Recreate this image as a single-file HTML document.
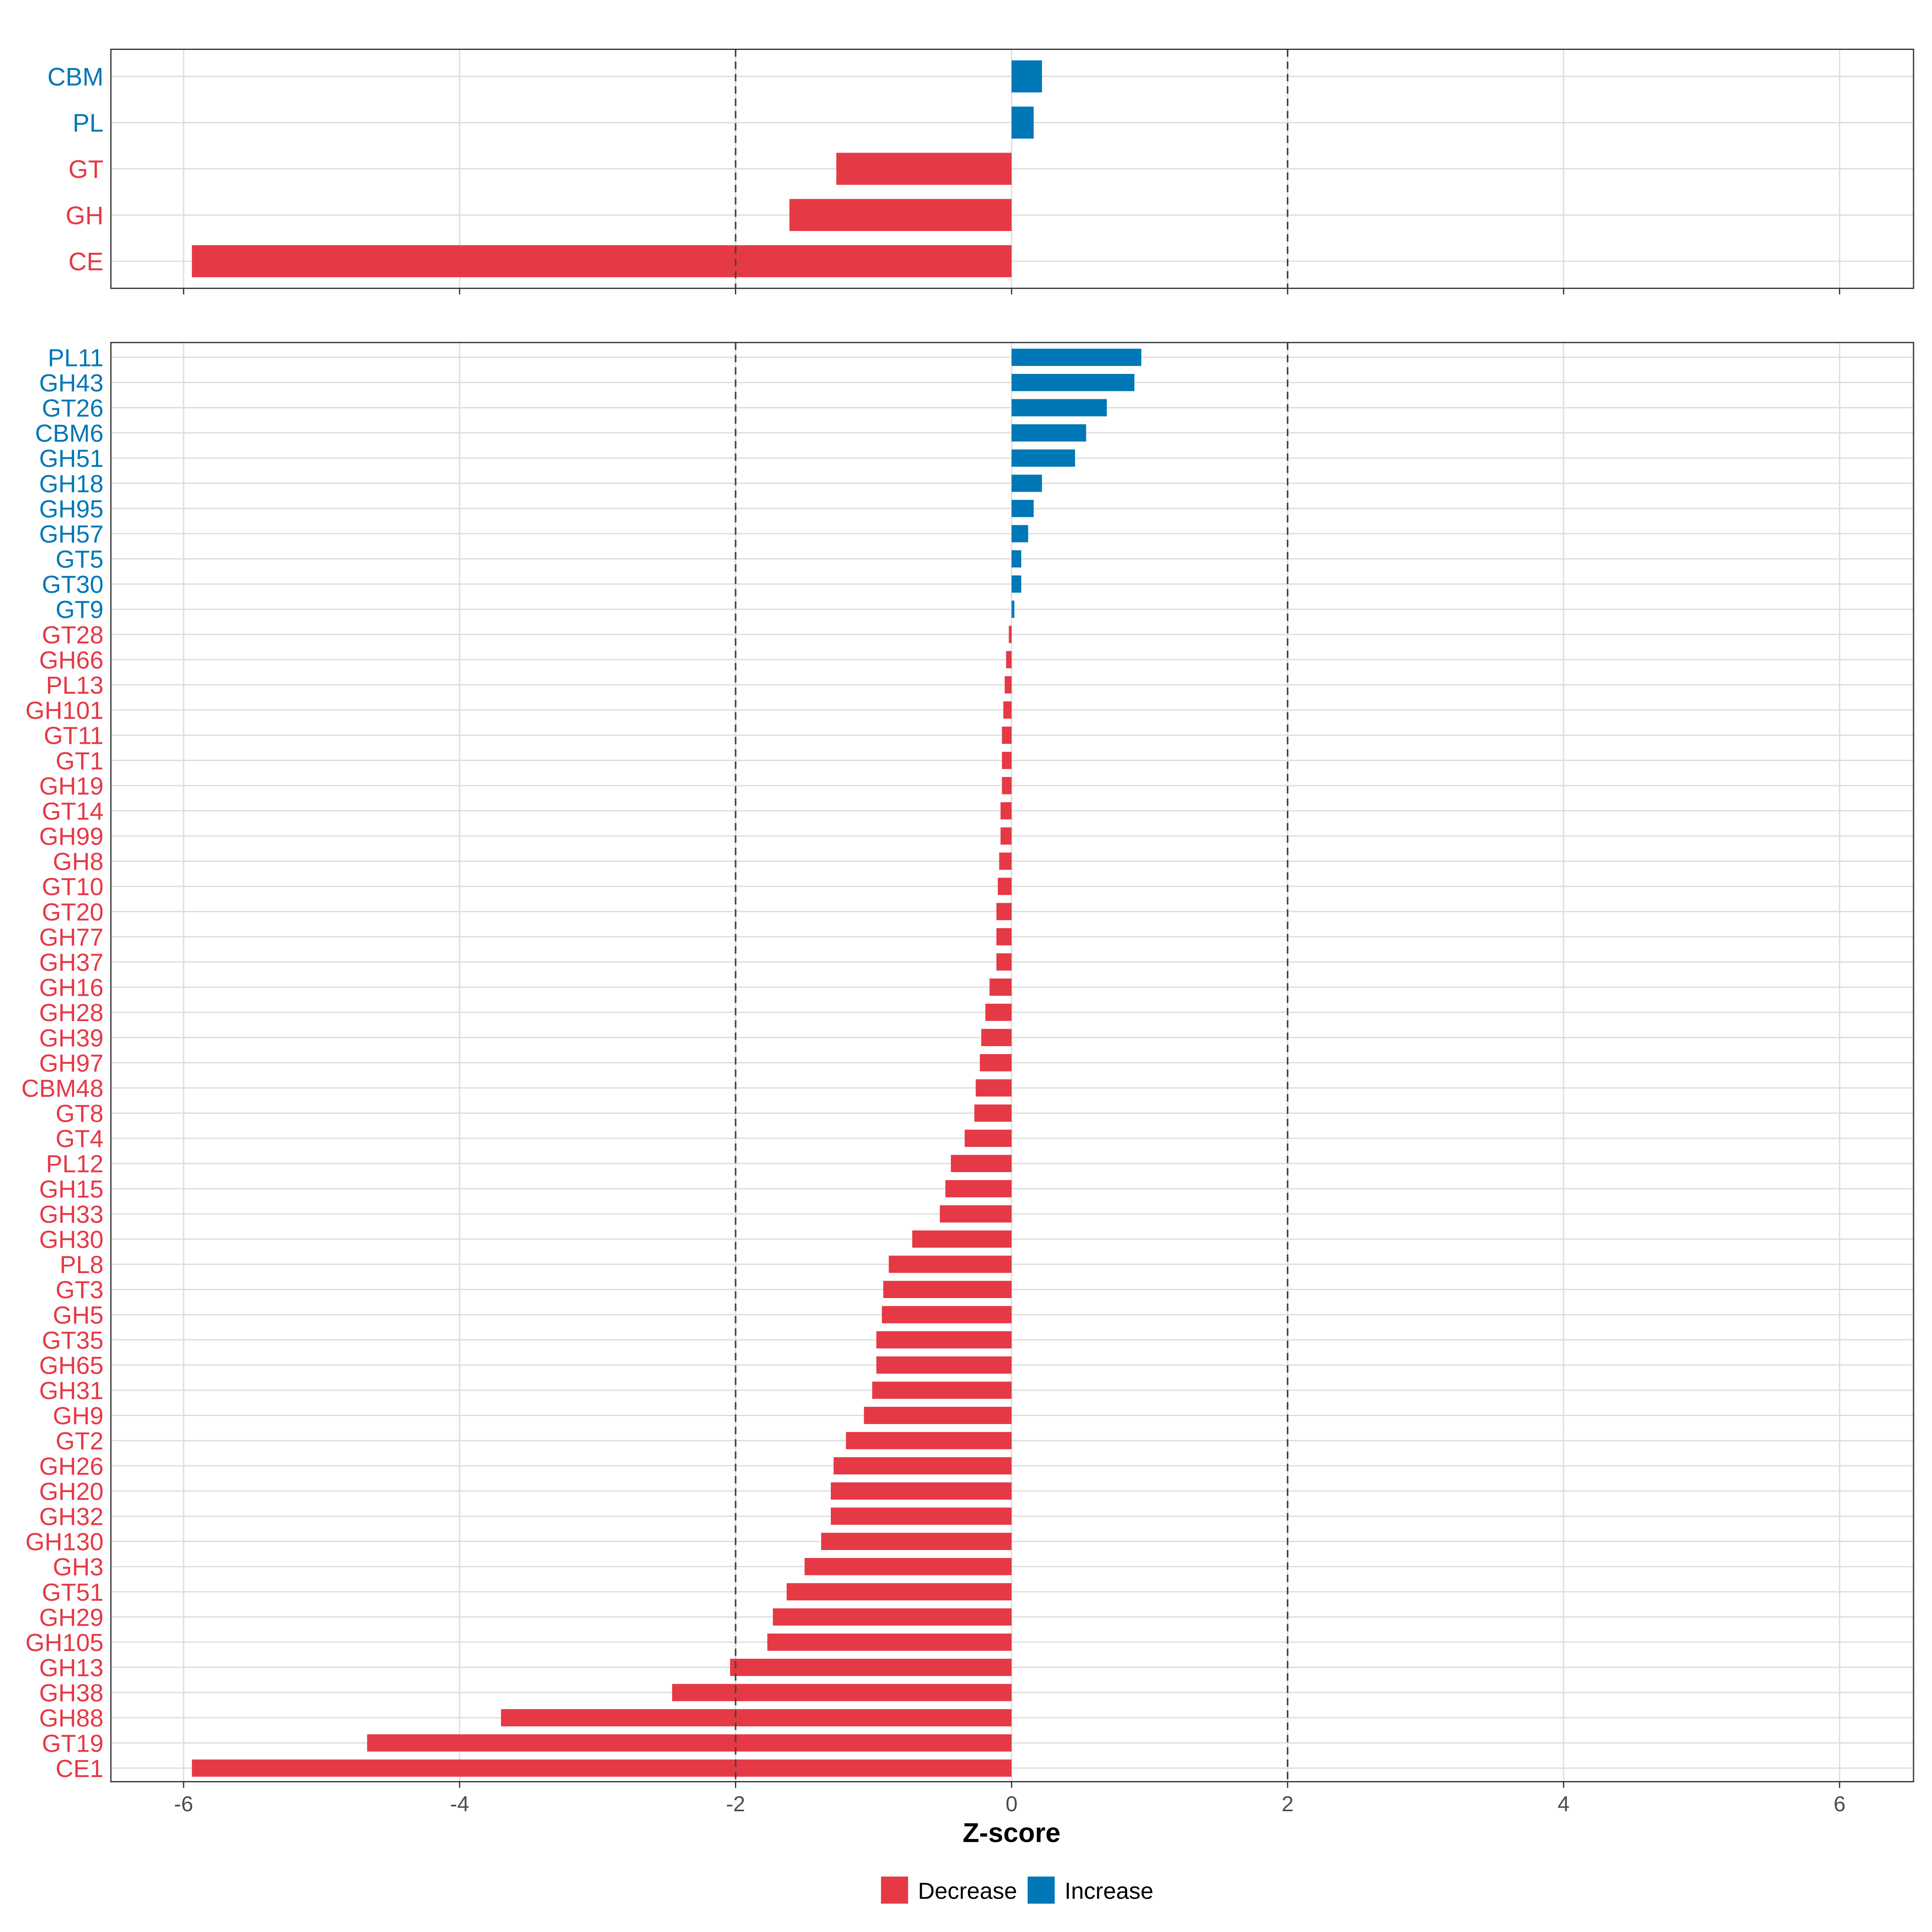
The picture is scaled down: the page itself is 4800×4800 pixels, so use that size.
<!DOCTYPE html>
<html><head><meta charset="utf-8"><style>
html,body{margin:0;padding:0;background:#fff;}
svg{display:block;font-family:"Liberation Sans",sans-serif;}
</style></head><body>
<svg id="chart" width="4800" height="4800" viewBox="0 0 1568 1568" xmlns="http://www.w3.org/2000/svg"></svg>
<script>
const topCategories=["CBM","PL","GT","GH","CE"];
const topValues=[0.22,0.16,-1.27,-1.61,-5.94];
const bottomCategories=["PL11","GH43","GT26","CBM6","GH51","GH18","GH95","GH57","GT5","GT30","GT9","GT28","GH66","PL13","GH101","GT11","GT1","GH19","GT14","GH99","GH8","GT10","GT20","GH77","GH37","GH16","GH28","GH39","GH97","CBM48","GT8","GT4","PL12","GH15","GH33","GH30","PL8","GT3","GH5","GT35","GH65","GH31","GH9","GT2","GH26","GH20","GH32","GH130","GH3","GT51","GH29","GH105","GH13","GH38","GH88","GT19","CE1"];
const bottomValues=[0.94,0.89,0.69,0.54,0.46,0.22,0.16,0.12,0.07,0.07,0.02,-0.02,-0.04,-0.05,-0.06,-0.07,-0.07,-0.07,-0.08,-0.08,-0.09,-0.1,-0.11,-0.11,-0.11,-0.16,-0.19,-0.22,-0.23,-0.26,-0.27,-0.34,-0.44,-0.48,-0.52,-0.72,-0.89,-0.93,-0.94,-0.98,-0.98,-1.01,-1.07,-1.2,-1.29,-1.31,-1.31,-1.38,-1.5,-1.63,-1.73,-1.77,-2.04,-2.46,-3.7,-4.67,-5.94];
const xTicks=[-6,-4,-2,0,2,4,6];
const thresholds=[-2,2];

const RED="#E63946",BLUE="#0077B6";
const svg=document.getElementById('chart');
const NS="http://www.w3.org/2000/svg";
const xs=v=>821+v*112;
function mk(tag,attrs,parent){const e=document.createElementNS(NS,tag);for(const k in attrs)e.setAttribute(k,attrs[k]);(parent||svg).appendChild(e);return e;}

function panel(name,y0,y1,cats,vals,firstY,step,barH,fs){
  const g=mk('g',{});
  
  
  xTicks.forEach(t=>{const l=mk('line',{x1:xs(t),x2:xs(t),y1:y0,y2:y1,stroke:'#dcdcdc','stroke-width':1},g);
    });
  cats.forEach((c,i)=>{const y=firstY+i*step;
    const l=mk('line',{x1:90,x2:1553,y1:y,y2:y,stroke:'#dcdcdc','stroke-width':1},g);
    });
  cats.forEach((c,i)=>{const y=firstY+i*step;const v=vals[i];
    const x0=Math.min(xs(0),xs(v)),w=Math.abs(xs(v)-xs(0));
    const r=mk('rect',{x:x0,y:y-barH/2,width:w,height:barH,fill:v<0?RED:BLUE},g);
    
    const t=mk('text',{x:84,y:y+fs*0.36,'text-anchor':'end','font-size':fs,fill:v<0?RED:BLUE},g);
    t.textContent=c;
    });
  thresholds.forEach(t=>{const l=mk('line',{x1:xs(t),x2:xs(t),y1:y0,y2:y1,stroke:'#444','stroke-width':1.3,'stroke-dasharray':'6,4'},g);
    });
  const b=mk('rect',{x:90,y:y0,width:1463,height:y1-y0,fill:'none',stroke:'#333','stroke-width':1},g);
  
  xTicks.forEach(t=>{const l=mk('line',{x1:xs(t),x2:xs(t),y1:y1,y2:y1+5,stroke:'#333','stroke-width':1},g);
    });
}
panel('top-panel',40,234,topCategories,topValues,62,37.5,26,20.5);
panel('bottom-panel',278,1446,bottomCategories,bottomValues,290,(1435-290)/56,14,20);

xTicks.forEach(t=>{const e=mk('text',{x:xs(t),y:1470,'text-anchor':'middle','font-size':17.5,fill:'#4d4d4d'});
  e.textContent=String(t);
  });
const xt=mk('text',{x:821,y:1495,'text-anchor':'middle','font-size':22,'font-weight':'bold',fill:'#000'});
xt.textContent='Z-score';


const lg=mk('g',{});

[[715,RED,'Decrease',745],[834,BLUE,'Increase',864]].forEach(([x,c,lab,tx])=>{
  const r=mk('rect',{x:x,y:1523,width:22,height:22,fill:c},lg);
  
  const t=mk('text',{x:tx,y:1541,'font-size':18.8,fill:'#000'},lg);
  t.textContent=lab;
  
});
</script>
</body></html>
